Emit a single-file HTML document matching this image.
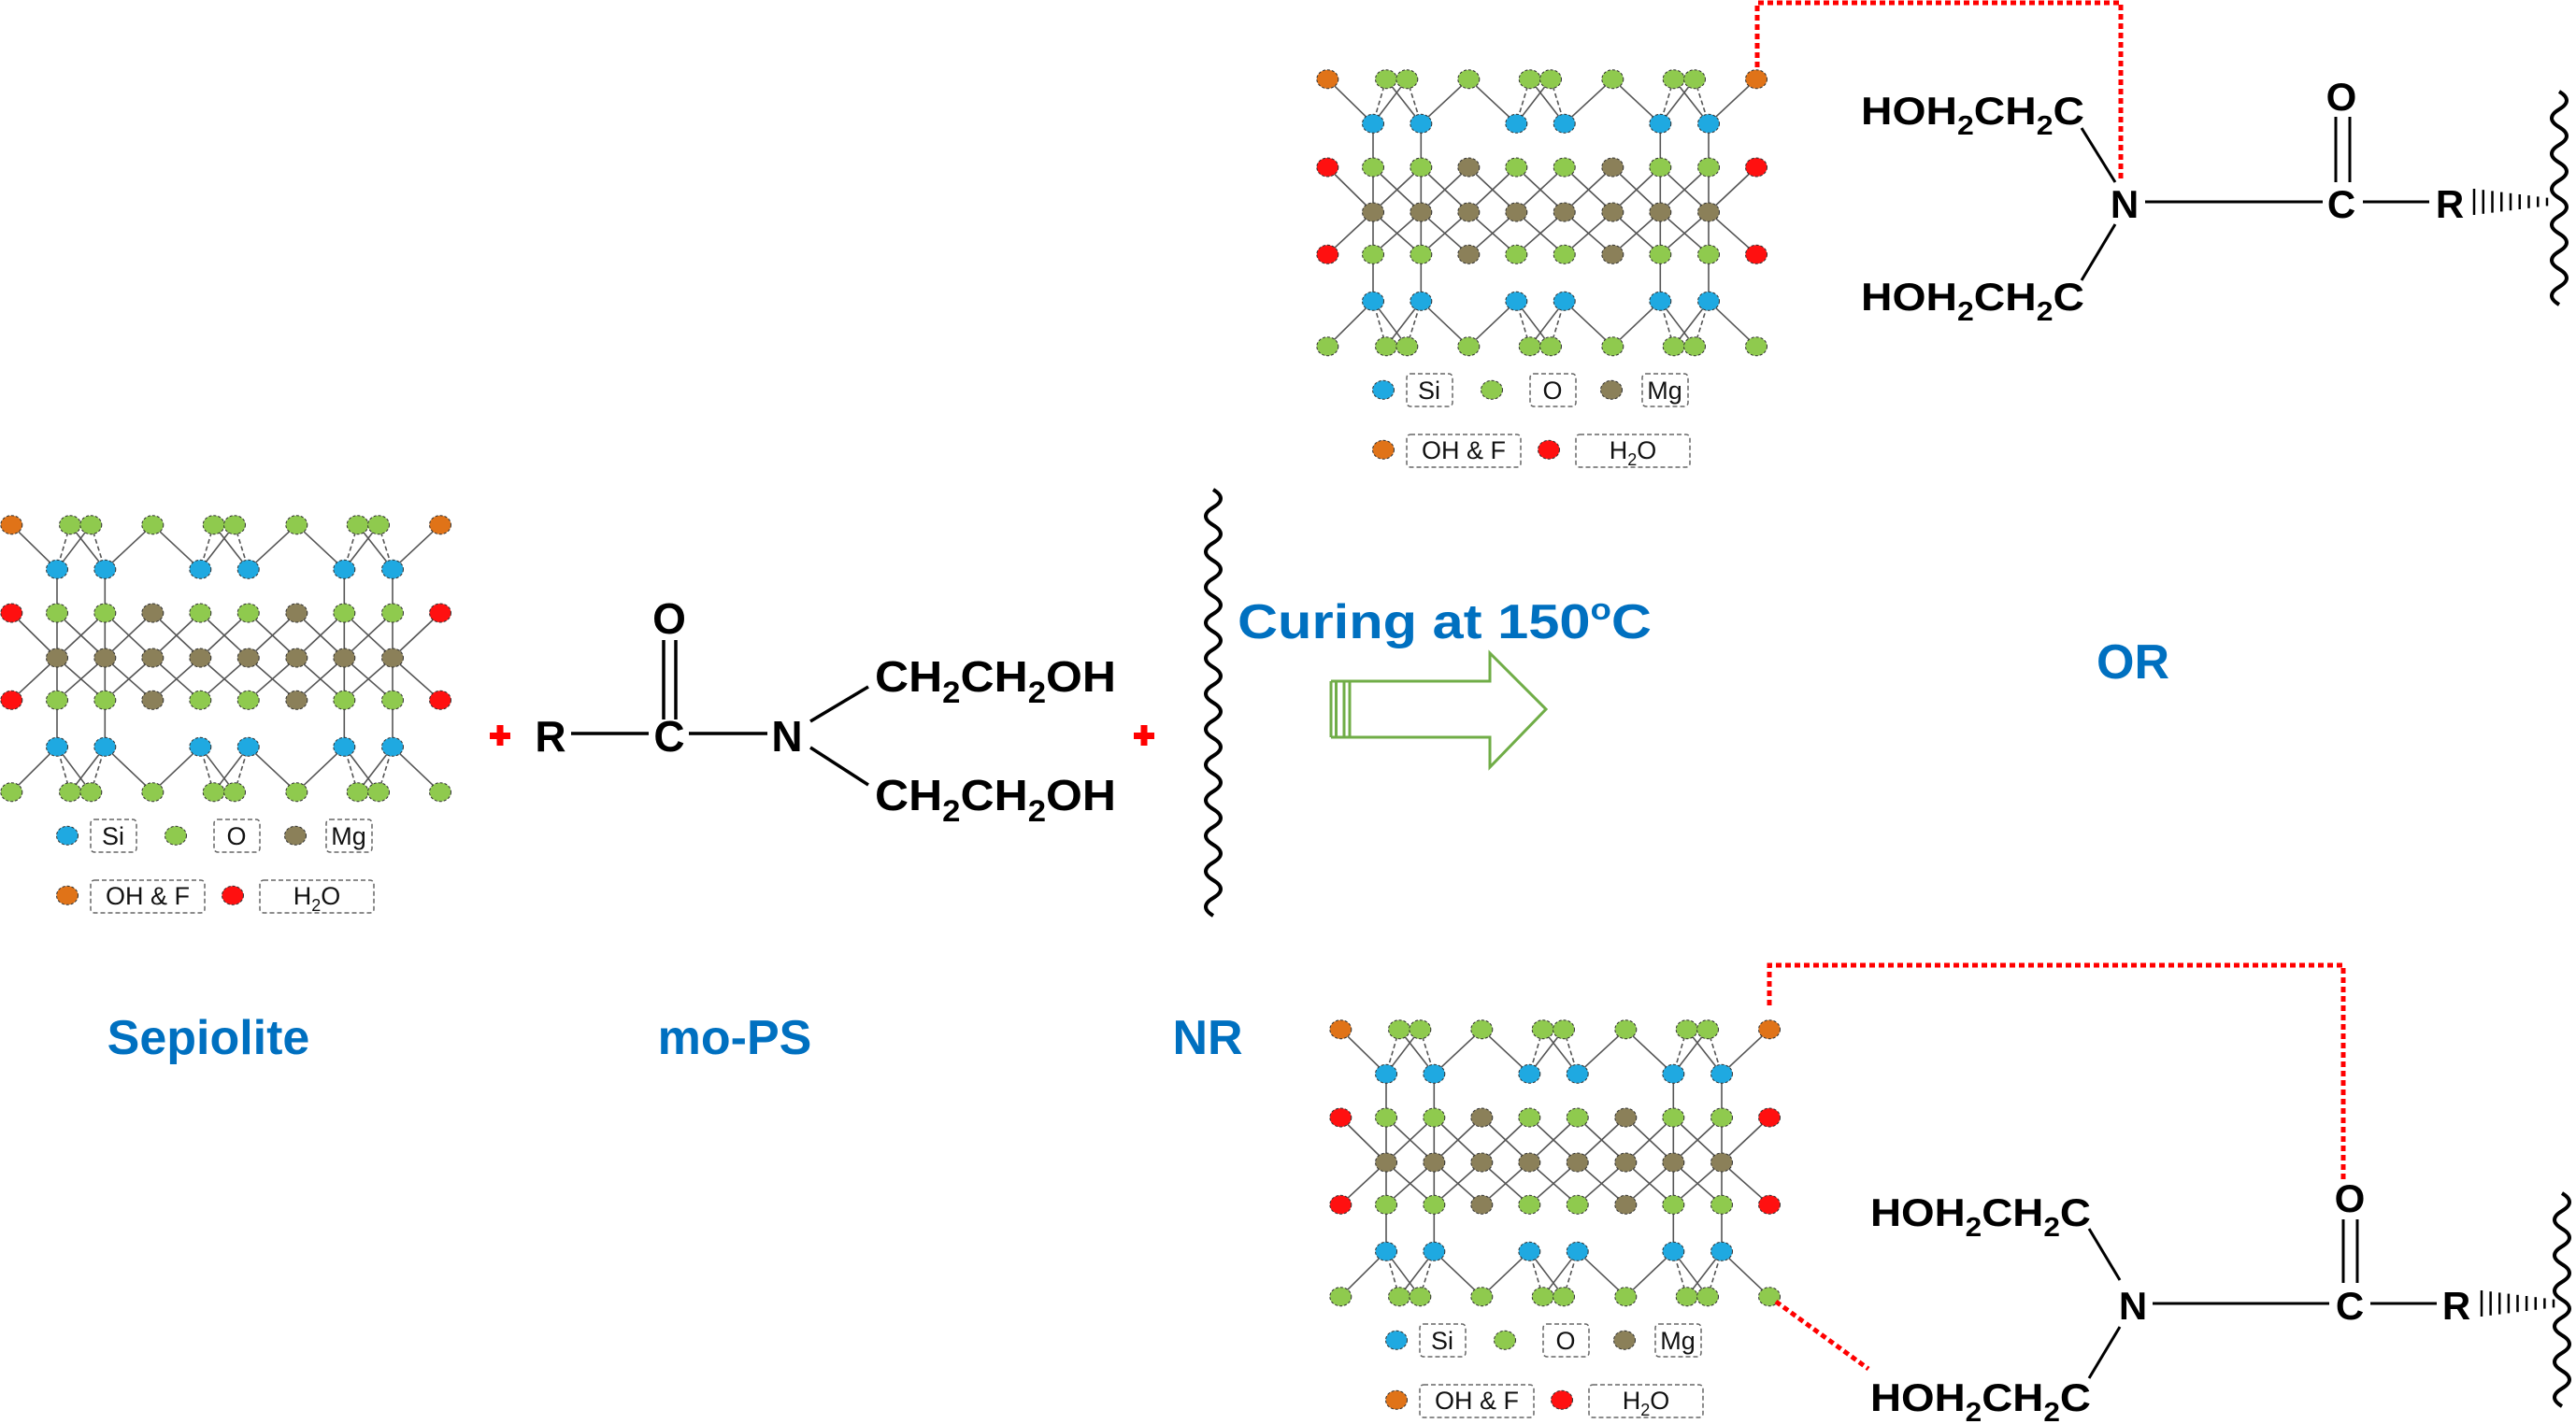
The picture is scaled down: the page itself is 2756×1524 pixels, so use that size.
<!DOCTYPE html>
<html><head><meta charset="utf-8"><style>
html,body{margin:0;padding:0;background:#fff;}
svg{display:block;}
text{font-family:"Liberation Sans",Arial,sans-serif;}
.b{font-weight:bold;}
.lg{font-size:27px;fill:#111;}
.bl{fill:#0070c0;font-weight:bold;}
</style></head><body>
<svg id="s" xmlns="http://www.w3.org/2000/svg" width="2756" height="1524" viewBox="0 0 2756 1524">
<rect width="2756" height="1524" fill="#fff"/>
<g id="g1"></g>
<g id="g2" transform="translate(1408,-477)"></g>
<g id="g3" transform="translate(1422,540)"></g>

<!-- legend texts -->
<g class="lg">
 <text x="121" y="904" text-anchor="middle">Si</text>
 <text x="253" y="904" text-anchor="middle">O</text>
 <text x="373" y="904" text-anchor="middle">Mg</text>
 <text x="158" y="968" text-anchor="middle">OH &amp; F</text>
 <text x="339" y="968" text-anchor="middle">H<tspan dy="7" font-size="18">2</tspan><tspan dy="-7">O</tspan></text>
</g>
<g class="lg" transform="translate(1408,-477)">
 <text x="121" y="904" text-anchor="middle">Si</text>
 <text x="253" y="904" text-anchor="middle">O</text>
 <text x="373" y="904" text-anchor="middle">Mg</text>
 <text x="158" y="968" text-anchor="middle">OH &amp; F</text>
 <text x="339" y="968" text-anchor="middle">H<tspan dy="7" font-size="18">2</tspan><tspan dy="-7">O</tspan></text>
</g>
<g class="lg" transform="translate(1422,540)">
 <text x="121" y="904" text-anchor="middle">Si</text>
 <text x="253" y="904" text-anchor="middle">O</text>
 <text x="373" y="904" text-anchor="middle">Mg</text>
 <text x="158" y="968" text-anchor="middle">OH &amp; F</text>
 <text x="339" y="968" text-anchor="middle">H<tspan dy="7" font-size="18">2</tspan><tspan dy="-7">O</tspan></text>
</g>

<!-- plus signs -->
<g fill="#ff0000">
 <rect x="524" y="784" width="22" height="7"/><rect x="531.5" y="776" width="7" height="22"/>
 <rect x="1213" y="784" width="22" height="7"/><rect x="1220.5" y="776" width="7" height="22"/>
</g>

<!-- mo-PS -->
<g class="b" font-size="46" fill="#000">
 <text x="589" y="804" text-anchor="middle">R</text>
 <text x="716" y="804" text-anchor="middle">C</text>
 <text x="842" y="804" text-anchor="middle">N</text>
 <text x="716" y="678" text-anchor="middle">O</text>
 <text x="936" y="740" textLength="258" lengthAdjust="spacingAndGlyphs">CH<tspan dy="12" font-size="32">2</tspan><tspan dy="-12">CH</tspan><tspan dy="12" font-size="32">2</tspan><tspan dy="-12">OH</tspan></text>
 <text x="936" y="867" textLength="258" lengthAdjust="spacingAndGlyphs">CH<tspan dy="12" font-size="32">2</tspan><tspan dy="-12">CH</tspan><tspan dy="12" font-size="32">2</tspan><tspan dy="-12">OH</tspan></text>
</g>
<g stroke="#000" stroke-width="3.5" fill="none">
 <line x1="611" y1="785" x2="694" y2="785"/>
 <line x1="737" y1="785" x2="821" y2="785"/>
 <line x1="710" y1="685" x2="710" y2="770"/>
 <line x1="723" y1="685" x2="723" y2="770"/>
 <line x1="867" y1="772" x2="929" y2="735"/>
 <line x1="867" y1="800" x2="929" y2="840"/>
</g>

<!-- labels -->
<g class="bl" font-size="52">
 <text x="223" y="1128" text-anchor="middle">Sepiolite</text>
 <text x="786" y="1128" text-anchor="middle">mo-PS</text>
 <text x="1292" y="1128" text-anchor="middle">NR</text>
 <text x="2282" y="726" text-anchor="middle">OR</text>
 <text x="1324" y="683" textLength="443" lengthAdjust="spacingAndGlyphs">Curing at 150<tspan dy="-20" font-size="32">o</tspan><tspan dy="20">C</tspan></text>
</g>

<!-- arrow -->
<g stroke="#70ad47" stroke-width="3" fill="none">
 <path d="M1438 729 L1594 729 L1594 699 L1654 759 L1594 821 L1594 789 L1438 789 Z"/>
 <line x1="1424" y1="729" x2="1424" y2="789"/><line x1="1429.5" y1="729" x2="1429.5" y2="789"/>
 <line x1="1424" y1="729" x2="1438" y2="729"/><line x1="1424" y1="789" x2="1438" y2="789"/>
 <line x1="1444" y1="729" x2="1444" y2="789"/>
</g>

<!-- top right chemistry -->
<g class="b" font-size="42" fill="#000">
 <text x="1991" y="133" textLength="239" lengthAdjust="spacingAndGlyphs">HOH<tspan dy="11" font-size="29">2</tspan><tspan dy="-11">CH</tspan><tspan dy="11" font-size="29">2</tspan><tspan dy="-11">C</tspan></text>
 <text x="1991" y="332" textLength="239" lengthAdjust="spacingAndGlyphs">HOH<tspan dy="11" font-size="29">2</tspan><tspan dy="-11">CH</tspan><tspan dy="11" font-size="29">2</tspan><tspan dy="-11">C</tspan></text>
 <text x="2273" y="233" text-anchor="middle">N</text>
 <text x="2505" y="233" text-anchor="middle">C</text>
 <text x="2621" y="233" text-anchor="middle">R</text>
 <text x="2505" y="118" text-anchor="middle">O</text>
</g>
<g stroke="#000" stroke-width="3" fill="none">
 <line x1="2295" y1="216" x2="2485" y2="216"/>
 <line x1="2528" y1="216" x2="2599" y2="216"/>
 <line x1="2499" y1="125" x2="2499" y2="195"/>
 <line x1="2514" y1="125" x2="2514" y2="195"/>
 <line x1="2227" y1="137" x2="2263" y2="195"/>
 <line x1="2263" y1="240" x2="2227" y2="300"/>
</g>
<path d="M1880 72 L1880 3 L2269 3 L2269 195" stroke="#ff0000" stroke-width="5" fill="none" stroke-dasharray="6 4"/>

<!-- bottom right chemistry -->
<g class="b" font-size="42" fill="#000">
 <text x="2001" y="1312" textLength="236" lengthAdjust="spacingAndGlyphs">HOH<tspan dy="11" font-size="29">2</tspan><tspan dy="-11">CH</tspan><tspan dy="11" font-size="29">2</tspan><tspan dy="-11">C</tspan></text>
 <text x="2001" y="1510" textLength="236" lengthAdjust="spacingAndGlyphs">HOH<tspan dy="11" font-size="29">2</tspan><tspan dy="-11">CH</tspan><tspan dy="11" font-size="29">2</tspan><tspan dy="-11">C</tspan></text>
 <text x="2282" y="1412" text-anchor="middle">N</text>
 <text x="2514" y="1412" text-anchor="middle">C</text>
 <text x="2628" y="1412" text-anchor="middle">R</text>
 <text x="2514" y="1297" text-anchor="middle">O</text>
</g>
<g stroke="#000" stroke-width="3" fill="none">
 <line x1="2303" y1="1395" x2="2492" y2="1395"/>
 <line x1="2536" y1="1395" x2="2607" y2="1395"/>
 <line x1="2507" y1="1305" x2="2507" y2="1373"/>
 <line x1="2522" y1="1305" x2="2522" y2="1373"/>
 <line x1="2235" y1="1315" x2="2268" y2="1370"/>
 <line x1="2268" y1="1420" x2="2235" y2="1475"/>
</g>
<g stroke="#ff0000" stroke-width="5" fill="none" stroke-dasharray="6 4">
 <path d="M1893 1076 L1893 1033 L2507 1033 L2507 1263"/>
 <path d="M1900 1393 L1999 1465"/>
</g>
<g id="waves" stroke="#000" stroke-width="4" fill="none"></g>
<g id="hash" stroke="#000" stroke-width="2.5"></g>
</svg>
<script>
(function(){
var NS="http://www.w3.org/2000/svg";
function el(p,t,a){var e=document.createElementNS(NS,t);for(var k in a)e.setAttribute(k,a[k]);p.appendChild(e);return e;}
var C={si:"#1fa9e1",o:"#8fca4e",mg:"#8b8059",oh:"#e07318",w:"#ff1010"};
var Y=[561.7,609.3,656,704,749.3,799.3,847.7];
var M=[61,112.3,163.3,214.3,265.7,317.3,368.3,420];
var L=12.3,R=471;
function build(g){
 var lines=el(g,"g",{stroke:"#555","stroke-width":"1.6",fill:"none"});
 function ln(x1,y1,x2,y2,d){var a={x1:x1,y1:y1,x2:x2,y2:y2};if(d)a["stroke-dasharray"]="5 3";el(lines,"line",a);}
 // verticals
 [61,112.3,368.3,420].forEach(function(x){ln(x,Y[1],x,Y[5]);});
 // diagonals
 var r3=[L].concat(M).concat([R]);
 for(var i=0;i<r3.length;i++){
  var j=i-1;
  [j-1,j+1].forEach(function(k){ if(k>=0&&k<8){ ln(r3[i],Y[2],M[k],Y[3]); ln(r3[i],Y[4],M[k],Y[3]); } });
 }
 // tetra layers
 var pairs=[[75,97.3,61,112.3],[228.7,251,214.3,265.7],[382.7,405,368.3,420]];
 [[Y[0],Y[1]],[Y[6],Y[5]]].forEach(function(p){
  var yo=p[0],ys=p[1];
  pairs.forEach(function(q){ln(q[0],yo,q[2],ys,1);ln(q[1],yo,q[3],ys,1);ln(q[0],yo,q[3],ys);ln(q[1],yo,q[2],ys);});
  ln(L,yo,61,ys);ln(112.3,ys,163.3,yo);ln(163.3,yo,214.3,ys);ln(265.7,ys,317.3,yo);ln(317.3,yo,368.3,ys);ln(420,ys,R,yo);
 });
 function dot(x,y,c){el(g,"ellipse",{cx:x,cy:y,rx:11.5,ry:10,fill:c,stroke:"#333","stroke-width":"1","stroke-dasharray":"3 2"});}
 // rows
 [0,6].forEach(function(r){
  var ends=r==0?C.oh:C.o;
  dot(L,Y[r],ends);dot(R,Y[r],ends);
  [75,97.3,163.3,228.7,251,317.3,382.7,405].forEach(function(x){dot(x,Y[r],C.o);});
 });
 [1,5].forEach(function(r){[61,112.3,214.3,265.7,368.3,420].forEach(function(x){dot(x,Y[r],C.si);});});
 [2,4].forEach(function(r){
  dot(L,Y[r],C.w);dot(R,Y[r],C.w);
  M.forEach(function(x,i){dot(x,Y[r],(i==2||i==5)?C.mg:C.o);});
 });
 M.forEach(function(x){dot(x,Y[3],C.mg);});
 // legend
 var lb=el(g,"g",{fill:"none",stroke:"#666","stroke-width":"1.5","stroke-dasharray":"5 3"});
 [[97,877,49,35],[229,877,49,35],[349,877,49,35],[97,942,122,35],[278,942,122,35]].forEach(function(b){el(lb,"rect",{x:b[0],y:b[1],width:b[2],height:b[3],rx:4});});
 dot(72,894.3,C.si);dot(188,894.3,C.o);dot(316,894.3,C.mg);dot(72,958.3,C.oh);dot(249,958.3,C.w);
}
build(document.getElementById("g1"));build(document.getElementById("g2"));build(document.getElementById("g3"));
var W=document.getElementById("waves");
function wave(x,y0,y1){var h=19,a=8,d="M"+x+" "+y0,s=1;for(var y=y0;y+h<=y1;y+=h){d+=" q"+(s*2*a)+" "+(h/2)+" 0 "+h;s=-s;}el(W,"path",{d:d});}
wave(1298,524,993);wave(2738,98,330);wave(2741,1277,1520);
var H=document.getElementById("hash");
function hash(x0,x1,y){var n=9;for(var i=0;i<n;i++){var x=x0+(x1-x0)*i/(n-1),h=14-i*1.2;el(H,"line",{x1:x,y1:y-h,x2:x,y2:y+h});}}
hash(2647,2725,216);hash(2655,2732,1395);
})();
</script>
</body></html>
